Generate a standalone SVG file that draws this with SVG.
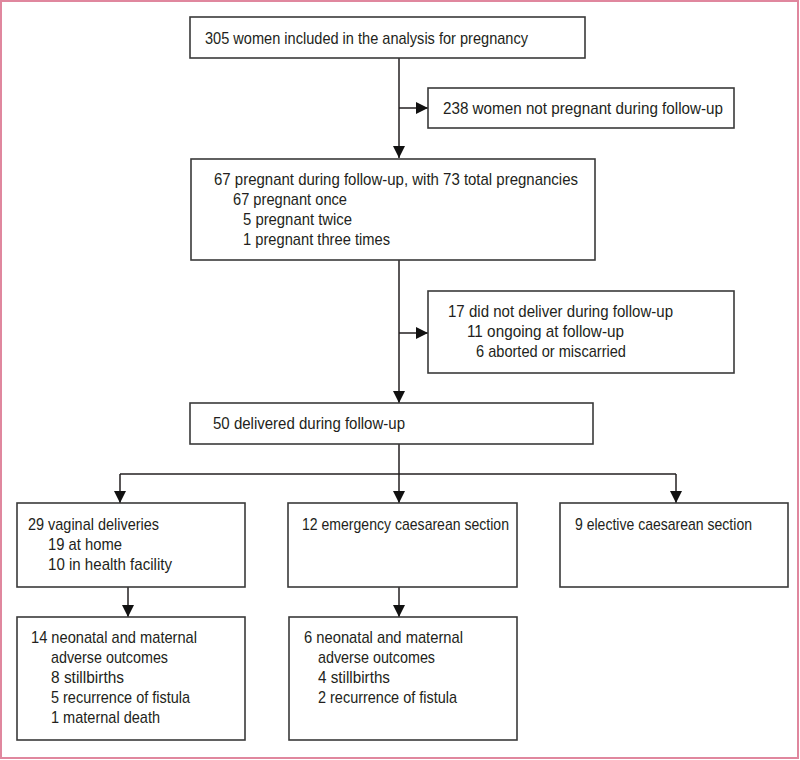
<svg xmlns="http://www.w3.org/2000/svg" width="800" height="760" viewBox="0 0 800 760">
<defs>
<style>
.box{fill:#fff;stroke:#3a3a3a;stroke-width:1.6}
.t{font-family:"Liberation Sans",Arial,sans-serif;font-size:17px;fill:#231f20}
.ln{fill:none;stroke:#231f20;stroke-width:1.5}
</style>
<marker id="ah" markerUnits="userSpaceOnUse" markerWidth="13" markerHeight="13" viewBox="0 0 13 13" refX="12" refY="6.5" orient="auto">
<path d="M0,0.5 L12,6.5 L0,12.5 Z" fill="#111"/>
</marker>
</defs>
<rect x="1" y="1" width="797" height="757" fill="#fff" stroke="#e0879e" stroke-width="2"/>
<g id="connectors">
<line class="ln" x1="399" y1="58" x2="399" y2="158" marker-end="url(#ah)"/>
<line class="ln" x1="399" y1="108" x2="428" y2="108" marker-end="url(#ah)"/>
<line class="ln" x1="399" y1="260" x2="399" y2="403" marker-end="url(#ah)"/>
<line class="ln" x1="399" y1="333" x2="428" y2="333" marker-end="url(#ah)"/>
<line class="ln" x1="399" y1="444" x2="399" y2="503" marker-end="url(#ah)"/>
<line class="ln" x1="120" y1="474" x2="676" y2="474"/>
<line class="ln" x1="120" y1="474" x2="120" y2="503" marker-end="url(#ah)"/>
<line class="ln" x1="676" y1="474" x2="676" y2="503" marker-end="url(#ah)"/>
<line class="ln" x1="128" y1="587" x2="128" y2="617" marker-end="url(#ah)"/>
<line class="ln" x1="399" y1="587" x2="399" y2="617" marker-end="url(#ah)"/>
</g>
<g id="n1">
<rect class="box" x="190" y="17" width="395" height="41"/>
<text class="t" x="205" y="44" textLength="323" lengthAdjust="spacingAndGlyphs">305 women included in the analysis for pregnancy</text>
</g>
<g id="n2">
<rect class="box" x="428" y="88" width="306" height="40"/>
<text class="t" x="443" y="114" textLength="280" lengthAdjust="spacingAndGlyphs">238 women not pregnant during follow-up</text>
</g>
<g id="n3">
<rect class="box" x="191" y="159" width="404" height="101"/>
<text class="t" x="214" y="185" textLength="364" lengthAdjust="spacingAndGlyphs">67 pregnant during follow-up, with 73 total pregnancies</text>
<text class="t" x="233" y="205" textLength="114" lengthAdjust="spacingAndGlyphs">67 pregnant once</text>
<text class="t" x="243" y="225" textLength="109" lengthAdjust="spacingAndGlyphs">5 pregnant twice</text>
<text class="t" x="243" y="245" textLength="147" lengthAdjust="spacingAndGlyphs">1 pregnant three times</text>
</g>
<g id="n4">
<rect class="box" x="428" y="291" width="306" height="82"/>
<text class="t" x="448" y="317" textLength="225" lengthAdjust="spacingAndGlyphs">17 did not deliver during follow-up</text>
<text class="t" x="467" y="337" textLength="157" lengthAdjust="spacingAndGlyphs">11 ongoing at follow-up</text>
<text class="t" x="476" y="357" textLength="150" lengthAdjust="spacingAndGlyphs">6 aborted or miscarried</text>
</g>
<g id="n5">
<rect class="box" x="190" y="403" width="403" height="41"/>
<text class="t" x="213" y="429" textLength="192" lengthAdjust="spacingAndGlyphs">50 delivered during follow-up</text>
</g>
<g id="n6">
<rect class="box" x="17" y="503" width="228" height="84"/>
<text class="t" x="28" y="530" textLength="131" lengthAdjust="spacingAndGlyphs">29 vaginal deliveries</text>
<text class="t" x="48" y="550" textLength="74" lengthAdjust="spacingAndGlyphs">19 at home</text>
<text class="t" x="48" y="570" textLength="124" lengthAdjust="spacingAndGlyphs">10 in health facility</text>
</g>
<g id="n7">
<rect class="box" x="288" y="503" width="229" height="84"/>
<text class="t" x="302" y="530" textLength="207" lengthAdjust="spacingAndGlyphs">12 emergency caesarean section</text>
</g>
<g id="n8">
<rect class="box" x="560" y="503" width="228" height="84"/>
<text class="t" x="575" y="530" textLength="177" lengthAdjust="spacingAndGlyphs">9 elective caesarean section</text>
</g>
<g id="n9">
<rect class="box" x="17" y="617" width="228" height="123"/>
<text class="t" x="31" y="643" textLength="166" lengthAdjust="spacingAndGlyphs">14 neonatal and maternal</text>
<text class="t" x="51" y="663" textLength="117" lengthAdjust="spacingAndGlyphs">adverse outcomes</text>
<text class="t" x="51" y="683" textLength="73" lengthAdjust="spacingAndGlyphs">8 stillbirths</text>
<text class="t" x="51" y="703" textLength="139" lengthAdjust="spacingAndGlyphs">5 recurrence of fistula</text>
<text class="t" x="51" y="723" textLength="109" lengthAdjust="spacingAndGlyphs">1 maternal death</text>
</g>
<g id="n10">
<rect class="box" x="289" y="617" width="228" height="123"/>
<text class="t" x="304" y="643" textLength="159" lengthAdjust="spacingAndGlyphs">6 neonatal and maternal</text>
<text class="t" x="318" y="663" textLength="117" lengthAdjust="spacingAndGlyphs">adverse outcomes</text>
<text class="t" x="318" y="683" textLength="72" lengthAdjust="spacingAndGlyphs">4 stillbirths</text>
<text class="t" x="318" y="703" textLength="139" lengthAdjust="spacingAndGlyphs">2 recurrence of fistula</text>
</g>
</svg>
